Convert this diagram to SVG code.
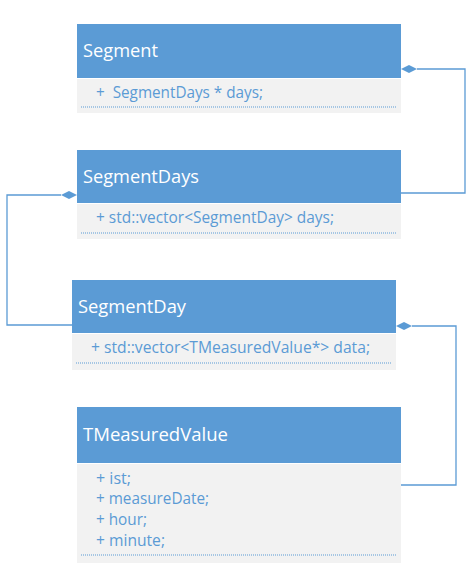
<svg xmlns="http://www.w3.org/2000/svg" width="468" height="563" viewBox="0 0 468 563">
<style>
.hdr{fill:#5B9BD5}
.bdy{fill:#F2F2F2}
.title{font-family:"Open Sans","Noto Sans",sans-serif;font-size:19px;fill:#FFFFFF}
.attr{font-family:"Open Sans","Noto Sans",sans-serif;font-size:15.5px;fill:#5B9BD5}
.sep{stroke:#5B9BD5;stroke-width:1;stroke-dasharray:1 1;fill:none}
.conn{stroke:#5B9BD5;stroke-width:1.3;fill:none}
.dia{fill:#5B9BD5}
</style>
<rect width="468" height="563" fill="#FFFFFF"/>
<g id="connectors">
<polyline class="conn" points="417,69 465,69 465,193 401,193"/>
<polygon class="dia" points="401,69 409,65 417,69 409,73"/>
<polyline class="conn" points="61,195 7,195 7,325 72,325"/>
<polygon class="dia" points="77,195 69,191 61,195 69,199"/>
<polyline class="conn" points="412,326 456,326 456,485 401,485"/>
<polygon class="dia" points="396,326 404,322 412,326 404,330"/>
</g>
<g id="Segment">
<rect class="hdr" x="77" y="24" width="324" height="54"/>
<rect class="bdy" x="77" y="79" width="324" height="34"/>
<text class="title" x="83" y="57" textLength="75" lengthAdjust="spacingAndGlyphs">Segment</text>
<text class="attr" x="96" y="98" textLength="167" lengthAdjust="spacingAndGlyphs" xml:space="preserve">+  SegmentDays * days;</text>
<line class="sep" x1="81" y1="107" x2="396" y2="107"/>
</g>
<g id="SegmentDays">
<rect class="hdr" x="77" y="150" width="324" height="53"/>
<rect class="bdy" x="77" y="204" width="324" height="35"/>
<text class="title" x="83" y="183" textLength="116" lengthAdjust="spacingAndGlyphs">SegmentDays</text>
<text class="attr" x="96" y="223" textLength="238" lengthAdjust="spacingAndGlyphs">+ std::vector&lt;SegmentDay&gt; days;</text>
<line class="sep" x1="81" y1="233" x2="396" y2="233"/>
</g>
<g id="SegmentDay">
<rect class="hdr" x="72" y="280" width="324" height="53"/>
<rect class="bdy" x="72" y="334" width="324" height="36"/>
<text class="title" x="78" y="313" textLength="108" lengthAdjust="spacingAndGlyphs">SegmentDay</text>
<text class="attr" x="91" y="353" textLength="279" lengthAdjust="spacingAndGlyphs">+ std::vector&lt;TMeasuredValue*&gt; data;</text>
<line class="sep" x1="76" y1="363" x2="391" y2="363"/>
</g>
<g id="TMeasuredValue">
<rect class="hdr" x="77" y="407" width="324" height="56"/>
<rect class="bdy" x="77" y="464" width="324" height="99"/>
<text class="title" x="83" y="441" textLength="145" lengthAdjust="spacingAndGlyphs">TMeasuredValue</text>
<text class="attr" x="96" y="484" textLength="35" lengthAdjust="spacingAndGlyphs">+ ist;</text>
<text class="attr" x="96" y="504" textLength="113" lengthAdjust="spacingAndGlyphs">+ measureDate;</text>
<text class="attr" x="96" y="525" textLength="51" lengthAdjust="spacingAndGlyphs">+ hour;</text>
<text class="attr" x="96" y="546" textLength="69" lengthAdjust="spacingAndGlyphs">+ minute;</text>
<line class="sep" x1="81" y1="555" x2="396" y2="555"/>
</g>
</svg>
